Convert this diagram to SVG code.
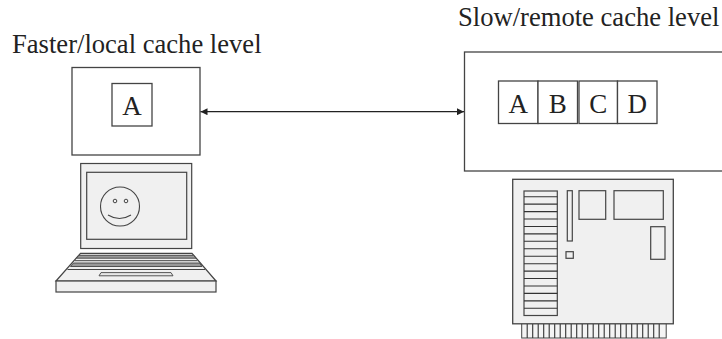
<svg xmlns="http://www.w3.org/2000/svg" width="722" height="339" viewBox="0 0 722 339">
  <style>
    .lbl { font-family: "Liberation Serif", "Times New Roman", serif; font-size: 26.6px; fill: #222; }
    .cell { font-family: "Liberation Serif", "Times New Roman", serif; font-size: 27px; fill: #222; text-anchor: middle; }
    .box { fill: #fff; stroke: #444; stroke-width: 1.3; }
    .part { fill: #f0f0f0; stroke: #444; stroke-width: 1.2; }
    .thin { fill: none; stroke: #444; stroke-width: 1; }
    .edge { fill: none; stroke: #222; stroke-width: 1.3; }
  </style>
  <defs>
    <marker id="head" viewBox="0 0 10 10" refX="10" refY="5" markerWidth="8" markerHeight="7" markerUnits="userSpaceOnUse" orient="auto-start-reverse">
      <path d="M0,0 L10,5 L0,10 z" fill="#222"/>
    </marker>
  </defs>

  <rect width="722" height="339" fill="#fff"/>

  <!-- level captions -->
  <text class="lbl" x="12" y="53">Faster/local cache level</text>
  <text class="lbl" x="458" y="26">Slow/remote cache level</text>

  <!-- local cache level -->
  <g id="local-cache">
    <rect class="box" x="72" y="67.5" width="128" height="87.5"/>
    <rect class="box" x="112" y="83.5" width="40" height="42.5"/>
    <text class="cell" x="132" y="115">A</text>
  </g>

  <!-- remote cache level -->
  <g id="remote-cache">
    <rect class="box" x="464.5" y="52" width="270" height="119"/>
    <rect class="box" x="498.5" y="81" width="39.5" height="42.5"/>
    <rect class="box" x="538" y="81" width="39.5" height="42.5"/>
    <rect class="box" x="579" y="81" width="38.5" height="42.5"/>
    <rect class="box" x="617.5" y="81" width="39.5" height="42.5"/>
    <text class="cell" x="518.3" y="113">A</text>
    <text class="cell" x="557.8" y="113">B</text>
    <text class="cell" x="598.3" y="113">C</text>
    <text class="cell" x="637.3" y="113">D</text>
  </g>

  <!-- connectors -->
  <g id="connectors">
    <line class="edge" x1="200.5" y1="111.7" x2="464" y2="111.7" marker-start="url(#head)" marker-end="url(#head)"/>
  </g>

  <!-- laptop -->
  <g id="laptop">
    <rect class="part" x="80.7" y="163.5" width="111" height="85"/>
    <rect class="part" x="86.7" y="172.3" width="100" height="67"/>
    <circle cx="120" cy="206.5" r="19.5" fill="none" stroke="#444" stroke-width="1.1"/>
    <circle cx="115" cy="201" r="1.8" fill="none" stroke="#444" stroke-width="1"/>
    <circle cx="126" cy="201" r="1.8" fill="none" stroke="#444" stroke-width="1"/>
    <path d="M108,215 Q119.5,222 131,215" fill="none" stroke="#444" stroke-width="1.1"/>
    <path class="part" d="M80.5,253.3 L192,253.3 L216,281 L56,281 Z"/>
    <path d="M79,255.3 L193.5,255.3 L196,258.2 L76.5,258.2 Z" fill="#999" stroke="#444" stroke-width="0.9"/>
    <path class="thin" d="M75,260.7 L197.5,260.7"/>
    <path d="M73.5,263 L199.5,263 L202,266.5 L70.5,266.5 Z" fill="#999" stroke="#444" stroke-width="0.9"/>
    <path class="thin" d="M67.5,269.5 L205,269.5"/>
    <path d="M101,272.6 L171,272.6 L173,275.8 L99,275.8 Z" fill="#e8e8e8" stroke="#444" stroke-width="0.9"/>
    <rect class="part" x="56" y="281" width="160" height="11"/>
  </g>

  <!-- server board -->
  <g id="server">
    <rect x="521.7" y="323" width="144.5" height="15" fill="#f4f4f4" stroke="#444" stroke-width="1"/>
    <path d="M527.2,324V338M532.7,324V338M538.2,324V338M543.7,324V338M549.2,324V338M554.7,324V338M560.2,324V338M565.7,324V338M571.2,324V338M576.7,324V338M582.2,324V338M587.7,324V338M593.2,324V338M598.7,324V338M604.2,324V338M609.7,324V338M615.2,324V338M620.7,324V338M626.2,324V338M631.7,324V338M637.2,324V338M642.7,324V338M648.2,324V338M653.7,324V338M659.2,324V338" stroke="#333" stroke-width="1.1"/>
    <rect x="512.7" y="179.3" width="160.6" height="144.5" fill="#f0f0f0" stroke="#444" stroke-width="1.3"/>
    <rect class="part" x="524" y="191" width="33.3" height="124.5"/>
    <path d="M524,196.7H557.3M524,204.1H557.3M524,211.6H557.3M524,219H557.3M524,226.5H557.3M524,233.9H557.3M524,241.3H557.3M524,248.8H557.3M524,256.2H557.3M524,263.7H557.3M524,271.1H557.3M524,278.5H557.3M524,286H557.3M524,293.4H557.3M524,300.9H557.3M524,308.3H557.3" stroke="#333" stroke-width="1.1"/>
    <rect class="part" x="567.3" y="190.7" width="5" height="50.3"/>
    <rect class="part" x="566" y="251.7" width="7.3" height="6.6"/>
    <rect class="part" x="579" y="190.7" width="26.7" height="28.6"/>
    <rect class="part" x="614" y="190.7" width="49.3" height="28.6"/>
    <rect class="part" x="650.7" y="226.7" width="14.3" height="32.6"/>
  </g>
</svg>
